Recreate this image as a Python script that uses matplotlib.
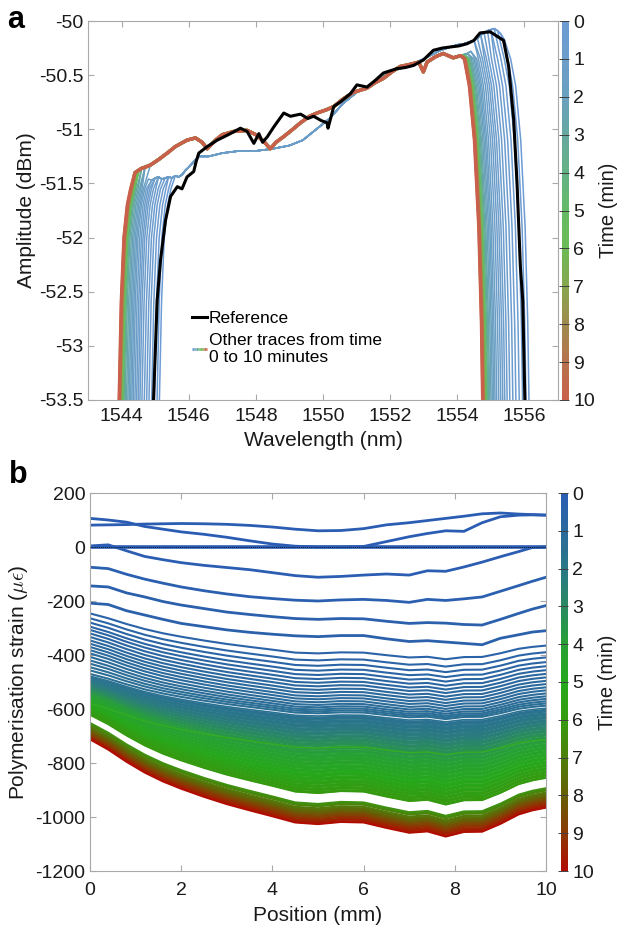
import numpy as np
import matplotlib
matplotlib.use("Agg")
import matplotlib.pyplot as plt
from matplotlib.colors import LinearSegmentedColormap, Normalize
from matplotlib.collections import LineCollection
from matplotlib.legend_handler import HandlerBase
from matplotlib.lines import Line2D
from matplotlib.cm import ScalarMappable

plt.rcParams["font.family"] = ["Liberation Sans", "DejaVu Sans"]
plt.rcParams["mathtext.fontset"] = "cm"
plt.rcParams["axes.unicode_minus"] = False

# ---------------- panel a: spectra ----------------
# black reference trace
ref_wl = [1544.94, 1545.06, 1545.16, 1545.31, 1545.46, 1545.66, 1545.80, 1545.95, 1546.15, 1546.22,
          1546.30, 1546.55, 1546.85, 1547.05, 1547.24, 1547.54, 1547.74, 1547.94, 1548.09, 1548.2,
          1548.34, 1548.53, 1548.83, 1549.03, 1549.33, 1549.55, 1549.72, 1549.95, 1550.12, 1550.15,
          1550.32, 1550.55, 1550.82, 1551.01, 1551.31, 1551.55, 1551.8, 1552.0, 1552.2, 1552.45,
          1552.7, 1552.99, 1553.29, 1553.55, 1553.79, 1554.05, 1554.29, 1554.49, 1554.68, 1554.98,
          1555.18, 1555.38, 1555.53, 1555.68, 1555.78, 1555.88, 1555.95, 1556.02]
ref_amp = [-53.6, -52.58, -52.21, -51.84, -51.62, -51.53, -51.55, -51.44, -51.39, -51.30,
           -51.22, -51.16, -51.10, -51.07, -51.04, -50.99, -51.02, -51.13, -51.04, -51.12,
           -51.07, -50.98, -50.85, -50.88, -50.86, -50.90, -50.88, -50.92, -50.94, -50.99,
           -50.79, -50.74, -50.67, -50.59, -50.61, -50.55, -50.48, -50.46, -50.44, -50.43,
           -50.41, -50.36, -50.27, -50.25, -50.24, -50.23, -50.21, -50.18, -50.11, -50.10,
           -50.14, -50.18, -50.42, -50.91, -51.50, -52.27, -52.58, -53.6]

# top of the early (blue) traces
early_wl = [1544.5, 1544.6, 1544.7, 1544.8, 1544.9, 1545.0, 1545.1, 1545.2, 1545.3, 1545.4,
            1545.5, 1545.6, 1545.7, 1545.8, 1545.9, 1546.0, 1546.15, 1546.3, 1546.6, 1547.0,
            1547.5, 1548.0, 1548.5, 1549.0, 1549.4, 1549.8, 1550.2, 1550.6, 1551.0, 1551.5,
            1552.0, 1552.5, 1553.0, 1553.5, 1554.0, 1554.2, 1554.4, 1554.5, 1554.6, 1554.7,
            1554.8, 1554.9, 1555.0, 1555.1, 1555.2, 1555.3, 1555.4, 1555.5]
early_amp = [-51.50, -51.50, -51.48, -51.46, -51.47, -51.45, -51.44, -51.46, -51.45, -51.44,
             -51.45, -51.43, -51.44, -51.42, -51.38, -51.35, -51.30, -51.25, -51.25, -51.22,
             -51.20, -51.20, -51.18, -51.15, -51.10, -51.00, -50.90, -50.76, -50.66, -50.58,
             -50.47, -50.42, -50.35, -50.27, -50.22, -50.21, -50.19, -50.18, -50.16, -50.13,
             -50.11, -50.09, -50.08, -50.07, -50.09, -50.12, -50.17, -50.25]

# top of the later (green / red) traces
late_wl = [1544.4, 1544.5, 1544.6, 1544.7, 1544.86, 1545.1, 1545.36, 1545.6, 1545.95, 1546.2,
           1546.4, 1546.55, 1546.8, 1547.0, 1547.34, 1547.74, 1548.0, 1548.23, 1548.43, 1548.6,
           1548.82, 1549.1, 1549.33, 1549.6, 1549.82, 1550.1, 1550.32, 1550.6, 1550.9, 1551.1,
           1551.31, 1551.55, 1551.8, 1552.05, 1552.3, 1552.6, 1552.85, 1552.99, 1553.1, 1553.35,
           1553.58, 1553.88, 1554.1, 1554.2, 1554.3, 1554.4, 1554.5, 1554.6]
late_amp = [-51.40, -51.38, -51.36, -51.35, -51.33, -51.28, -51.22, -51.16, -51.10, -51.08,
            -51.12, -51.18, -51.10, -51.05, -51.02, -51.01, -51.05, -51.11, -51.18, -51.12,
            -51.07, -51.00, -50.94, -50.88, -50.85, -50.82, -50.79, -50.72, -50.66, -50.64,
            -50.62, -50.57, -50.53, -50.47, -50.42, -50.40, -50.38, -50.47, -50.38, -50.33,
            -50.30, -50.34, -50.32, -50.31, -50.30, -50.28, -50.26, -50.25]

# grating edges: offsets from the edge foot and the amplitude there
left_edge_dx = [0.0, 0.07, 0.15, 0.25, 0.35]
left_edge_amp = [-53.6, -52.6, -52.0, -51.7, -51.55]
right_edge_dx = [-0.55, -0.4, -0.25, -0.12, -0.04, 0.0]
right_edge_amp = [-50.35, -50.6, -51.1, -51.9, -52.8, -53.6]

spec_time = [0.0, 0.1, 0.2, 0.3, 0.4, 0.5, 0.6, 0.7, 0.8, 0.9, 1.0, 1.2, 1.4, 1.6,
             1.8, 2.0, 2.3, 2.6, 3.0, 3.5, 4.0, 4.5, 5.0, 6.0, 7.0, 8.0, 9.0, 10.0]
spec_left = [1545.12, 1545.05, 1544.97, 1544.89, 1544.81, 1544.74, 1544.67, 1544.60, 1544.54,
             1544.49, 1544.44, 1544.39, 1544.34, 1544.30, 1544.26, 1544.22, 1544.18, 1544.14,
             1544.10, 1544.07, 1544.04, 1544.02, 1544.00, 1543.98, 1543.96, 1543.94, 1543.93,
             1543.92]
spec_right = [1556.14, 1556.05, 1555.95, 1555.85, 1555.75, 1555.66, 1555.57, 1555.49, 1555.42,
              1555.36, 1555.30, 1555.24, 1555.18, 1555.13, 1555.09, 1555.05, 1555.01, 1554.97,
              1554.94, 1554.91, 1554.88, 1554.86, 1554.84, 1554.82, 1554.80, 1554.78, 1554.77,
              1554.76]

# ---------------- panel b: strain ----------------
position = [0, 0.4, 0.8, 1.2, 1.6, 2.0, 2.5, 3.0, 3.5, 4.0, 4.5, 5.0, 5.5, 6.0, 6.5, 7.0,
            7.4, 7.8, 8.2, 8.6, 9.0, 9.4, 9.7, 10.0]
final_strain = [-712, -750, -795, -835, -868, -895, -925, -952, -975, -997, -1020, -1026,
                -1018, -1020, -1040, -1058, -1053, -1072, -1055, -1054, -1025, -990, -975, -965]
zero_strain = [0.0] * 24

early_time = [0.02, 0.05, 0.1, 0.2, 0.3, 0.4]
early_strain = [
    [106, 100, 92, 76, 66, 56, 47, 36, 23, 11, 3, 0, 0, 2, 20, 38, 50, 60, 58, 90, 112, 118, 119, 118],
    [81, 82, 83, 85, 86, 87, 86, 84, 80, 74, 66, 60, 61, 68, 82, 90, 98, 106, 114, 123, 126, 122, 120, 118],
    [4, 8, -14, -35, -47, -58, -68, -76, -84, -95, -106, -112, -109, -104, -100, -104, -88, -90, -74, -56, -36, -17, -2, 0],
    [-75, -80, -101, -119, -134, -148, -162, -174, -184, -191, -197, -200, -196, -194, -198, -205, -194, -198, -192, -185, -164, -143, -127, -112],
    [-144, -148, -170, -185, -202, -215, -228, -241, -250, -258, -265, -268, -265, -266, -275, -283, -280, -282, -287, -289, -268, -246, -230, -217],
    [-208, -213, -236, -252, -268, -283, -295, -307, -316, -323, -329, -332, -328, -328, -340, -350, -347, -352, -357, -362, -338, -325, -315, -310],
]

# later traces: strain at 0 mm and at 5 mm (shape follows the final trace)
dense_time = [0.5, 0.55, 0.6, 0.65, 0.7, 0.75, 0.8, 0.85, 0.9, 0.95, 1.0, 1.05, 1.1, 1.15,
              1.2, 1.25, 1.3, 1.4,
              1.5, 1.7, 1.9, 2.1, 2.3, 2.6, 2.9, 3.2, 3.5, 3.8, 4.0, 4.2, 4.4, 4.6, 4.8, 5.0,
              5.2, 5.4, 5.6, 5.8, 5.9, 6.0]
dense_x0 = [-246, -264, -280, -295, -307, -320, -333, -346, -358, -370, -382, -394, -407, -420,
            -432, -445, -457, -470,
            -478, -486, -494, -501, -508, -515, -522, -529, -536, -543, -550, -557, -564, -571,
            -578, -585, -592, -598, -604, -610, -616, -622]
dense_x5 = [-394, -420, -440, -458, -474, -489, -503, -516, -529, -541, -553, -564, -575, -585,
            -594, -602, -609, -616,
            -626, -640, -654, -668, -682, -696, -710, -724, -738, -752, -766, -780, -794, -808,
            -822, -836, -850, -864, -878, -890, -902, -912]
n_discrete = 18

# a brighter green trace inside the band
mark_time, mark_x0, mark_x5 = 4.6, -579, -745

low_time = [6.4, 6.8, 7.2, 7.6, 8.0, 8.4, 8.8, 9.2, 9.6, 10.0]
low_x0 = [-652, -659, -666, -673, -680, -687, -694, -701, -707, -712]
low_x5 = [-952, -960, -968, -976, -984, -992, -1000, -1008, -1017, -1026]

cmap_a = LinearSegmentedColormap.from_list(
    "spec", [(0.0, "#6d9bd4"), (0.2, "#6aa0c0"), (0.3, "#66a8a0"), (0.4, "#63b284"),
             (0.5, "#64bb66"), (0.6, "#6cbb55"), (0.7, "#86a650"), (0.8, "#a08a4e"),
             (0.9, "#b6734d"), (1.0, "#c9604b")])
cmap_b = LinearSegmentedColormap.from_list(
    "strain", [(0.0, "#2b5cb4"), (0.1, "#2b6a9c"), (0.2, "#2a7886"), (0.3, "#2a8a62"),
               (0.4, "#27a036"), (0.5, "#26a81c"), (0.6, "#359a10"), (0.7, "#4d800a"),
               (0.8, "#665f06"), (0.9, "#8a3a03"), (1.0, "#b00c00")])
norm = Normalize(0, 10)

GREY = "#a8a8a8"
TXT = "#1a1a1a"


class HandlerGradient(HandlerBase):
    def create_artists(self, legend, orig_handle, xdescent, ydescent, width, height,
                       fontsize, trans):
        xs = np.linspace(-xdescent, width - xdescent, 12)
        y = height / 2 - ydescent
        segs = [[(xs[i], y), (xs[i + 1], y)] for i in range(len(xs) - 1)]
        lc = LineCollection(segs, cmap=cmap_a, norm=Normalize(0, len(segs) - 1),
                            linewidth=2.0, transform=trans)
        lc.set_array(np.arange(len(segs)))
        return [lc]


def style_axes(ax, xpad):
    for sp in ax.spines.values():
        sp.set_color(GREY)
        sp.set_linewidth(0.8)
    ax.tick_params(direction="in", length=4, width=0.8, color=GREY, labelcolor=TXT,
                   labelsize=14, top=True, right=True)
    ax.tick_params(axis="x", pad=xpad)


def add_cbar(fig, rect, cmap):
    cax = fig.add_axes(rect)
    cb = fig.colorbar(ScalarMappable(norm=norm, cmap=cmap), cax=cax)
    cb.outline.set_visible(False)
    cb.set_ticks(range(11))
    cax.invert_yaxis()
    cax.tick_params(direction="in", length=7, width=0.7, color="#404040", labelcolor=TXT,
                    labelsize=14, pad=3)
    cb.set_label("Time (min)", fontsize=14.5, color=TXT, labelpad=3)
    return cb


fig = plt.figure(figsize=(6.17, 9.26), dpi=100)

# ---- panel a
ax = fig.add_axes([88 / 617, 1 - 400 / 926, 470 / 617, 379 / 926])
e_wl, e_amp = np.array(early_wl), np.array(early_amp)
l_wl, l_amp = np.array(late_wl), np.array(late_amp)
for t, lft, rgt in zip(spec_time, spec_left, spec_right):
    wl, amp = (e_wl, e_amp) if t < 1.5 else (l_wl, l_amp)
    keep = (wl > lft + 0.42) & (wl < rgt - 0.65)
    x = np.concatenate([lft + np.array(left_edge_dx), wl[keep], rgt + np.array(right_edge_dx)])
    y = np.concatenate([left_edge_amp, amp[keep], right_edge_amp])
    ax.plot(x, y, color=cmap_a(norm(t)), lw=2.4 if t >= 5 else 1.1, zorder=2)
ax.plot(ref_wl, ref_amp, color="black", lw=2.2, zorder=3)

ax.set_xlim(1543, 1557)
ax.set_ylim(-53.5, -50)
ax.set_xticks(range(1544, 1557, 2))
ax.set_yticks([-50, -50.5, -51, -51.5, -52, -52.5, -53, -53.5])
ax.set_yticklabels(["-50", "-50.5", "-51", "-51.5", "-52", "-52.5", "-53", "-53.5"])
ax.set_xticklabels([str(v) for v in range(1544, 1557, 2)])
style_axes(ax, 6)
ax.set_xlabel("Wavelength (nm)", fontsize=15, color=TXT, labelpad=4)
ax.set_ylabel("Amplitude (dBm)", fontsize=15, color=TXT, labelpad=2)

h_ref = Line2D([], [], color="black", lw=2.2)
h_other = LineCollection([])
ax.legend([h_ref, h_other], ["Reference", "Other traces from time\n0 to 10 minutes"],
          handler_map={LineCollection: HandlerGradient()}, loc="upper left",
          bbox_to_anchor=(0.222, 0.235), frameon=False, fontsize=12.5, handlelength=0.85,
          handletextpad=0.1, labelspacing=0.4, borderpad=0, borderaxespad=0)

add_cbar(fig, [562 / 617, 1 - 400 / 926, 7 / 617, 379 / 926], cmap_a)

# ---- panel b
bx = fig.add_axes([90 / 617, 1 - 871 / 926, 456 / 617, 378 / 926])
pos = np.array(position)
final = np.array(final_strain, dtype=float)
shape = (final - final[0]) / (final[11] - final[0])

for t, curve in zip(early_time, early_strain):
    bx.plot(pos, curve, color=cmap_b(norm(t)), lw=2.0, zorder=2)
bx.plot(pos, zero_strain, color=cmap_b(norm(0)), lw=2.6, zorder=2)
bx.plot(pos, zero_strain, color="black", lw=0.6, ls=(0, (1, 1.5)), zorder=3)

dense = [x0 + (x5 - x0) * shape for x0, x5 in zip(dense_x0, dense_x5)]
for i, (t, y) in enumerate(zip(dense_time, dense)):
    c = cmap_b(norm(t))
    if i < n_discrete:
        bx.plot(pos, y, color=c, lw=1.5, zorder=2)
    else:
        bx.plot(pos, y, color=c, lw=1.2, zorder=2)
        if i + 1 < len(dense):
            bx.fill_between(pos, y, dense[i + 1], color=c, lw=0, zorder=1.9)
bx.plot(pos, mark_x0 + (mark_x5 - mark_x0) * shape, color="#33ad22", lw=1.0, zorder=2.1)

low = [x0 + (x5 - x0) * shape for x0, x5 in zip(low_x0, low_x5)]
for i, (t, y) in enumerate(zip(low_time, low)):
    c = cmap_b(norm(t))
    bx.plot(pos, y, color=c, lw=1.6, zorder=2)
    if i + 1 < len(low) and i != 1:
        bx.fill_between(pos, y, low[i + 1], color=c, lw=0, zorder=1.9)

bx.set_xlim(0, 10)
bx.set_ylim(-1200, 200)
bx.set_xticks(range(0, 11, 2))
bx.set_yticks(range(-1200, 201, 200))
style_axes(bx, 8)
bx.set_xlabel("Position (mm)", fontsize=15, color=TXT, labelpad=5)
bx.set_ylabel(r"Polymerisation strain ($\mu\epsilon$)", fontsize=15, color=TXT, labelpad=4)

add_cbar(fig, [561 / 617, 1 - 871 / 926, 7 / 617, 378 / 926], cmap_b)

fig.text(0.012, 0.995, "a", fontsize=22, fontweight="bold", va="top", ha="left")
fig.text(0.015, 0.503, "b", fontsize=22, fontweight="bold", va="top", ha="left")

fig.savefig("out.png", dpi=100)
